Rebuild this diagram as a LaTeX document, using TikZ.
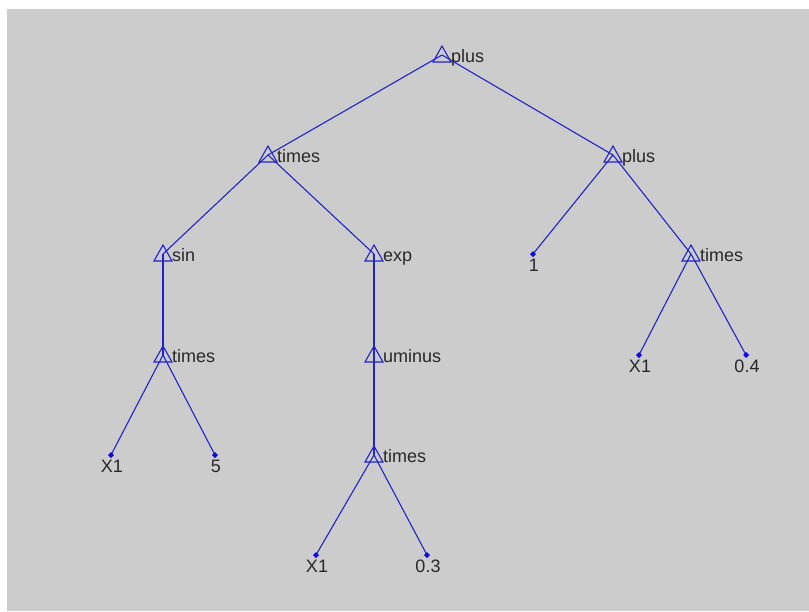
\documentclass[tikz,border=0pt]{standalone}
\usepackage{fontspec}
\setmainfont{Liberation Sans}
\definecolor{edgeblue}{RGB}{35,35,200}
\definecolor{dotblue}{RGB}{10,10,225}
\definecolor{panel}{RGB}{204,204,204}
\definecolor{labelgray}{RGB}{40,40,40}
\tikzset{
  edge/.style={draw=edgeblue, line width=1.1pt},
  optri/.style={draw=edgeblue, line width=1.1pt, line join=miter},
  oplabel/.style={anchor=base west, inner sep=0pt, text=labelgray,
    font=\fontsize{18}{20}\selectfont},
  leaflabel/.style={anchor=base, inner sep=0pt, text=labelgray,
    font=\fontsize{18}{20}\selectfont},
  leafdot/.style={fill=dotblue},
}
\begin{document}
\begin{tikzpicture}[x=1pt, y=-1pt]
  \useasboundingbox (0,0) rectangle (809,611);
  \fill[white] (0,0) rectangle (809,611);
  \fill[panel] (7,9) rectangle (809,611);

  % operator nodes
  \coordinate (plusA)   at (442,55);
  \coordinate (timesA)  at (268,155);
  \coordinate (plusB)   at (613,155);
  \coordinate (sinA)    at (163,254);
  \coordinate (expA)    at (374,254);
  \coordinate (timesB)  at (691,254);
  \coordinate (timesC)  at (163,355);
  \coordinate (uminusA) at (374,355);
  \coordinate (timesD)  at (374,455);
  % terminal nodes
  \coordinate (oneA)  at (533,254);
  \coordinate (xB)    at (639,355);
  \coordinate (cB)    at (746,355);
  \coordinate (xC)    at (111,455);
  \coordinate (cC)    at (215,455);
  \coordinate (xD)    at (316,555);
  \coordinate (cD)    at (427,555);

  % connectors
  \draw[edge] (plusA) -- (timesA);
  \draw[edge] (plusA) -- (plusB);
  \draw[edge] (timesA) -- (sinA);
  \draw[edge] (timesA) -- (expA);
  \draw[edge] (plusB) -- (oneA);
  \draw[edge] (plusB) -- (timesB);
  \draw[edge] (sinA) -- (timesC);
  \draw[edge] (expA) -- (uminusA);
  \draw[edge] (timesB) -- (xB);
  \draw[edge] (timesB) -- (cB);
  \draw[edge] (timesC) -- (xC);
  \draw[edge] (timesC) -- (cC);
  \draw[edge] (uminusA) -- (timesD);
  \draw[edge] (timesD) -- (xD);
  \draw[edge] (timesD) -- (cD);

  % operator triangles and names
  \foreach \n/\t in {plusA/plus, timesA/times, plusB/plus, sinA/sin,
                     expA/exp, timesB/times, timesC/times,
                     uminusA/uminus, timesD/times} {
    \draw[optri, shift={(\n)}] (0,-9) -- (9,7) -- (-9,7) -- cycle;
    \node[oplabel] (\n-lab) at ([shift={(9,7)}]\n) {\t};
  }

  % terminal markers and values
  \foreach \n/\t in {oneA/1, xB/X1, cB/0.4, xC/X1, cC/5, xD/X1, cD/0.3} {
    \fill[leafdot, shift={(\n)}] (0,-3) -- (3,0) -- (0,3) -- (-3,0) -- cycle;
    \node[leaflabel] (\n-lab) at ([shift={(1,17)}]\n) {\t};
  }
\end{tikzpicture}
\end{document}
